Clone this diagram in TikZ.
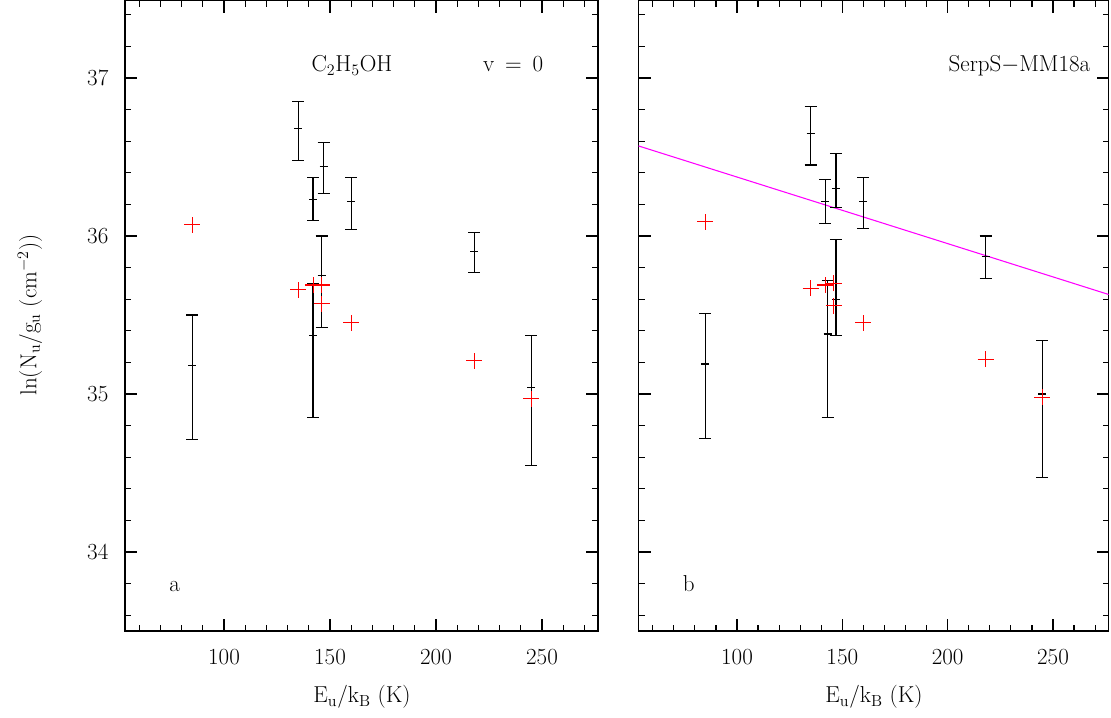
\documentclass[tikz,border=0pt]{standalone}
\usepackage{fontspec}
\setmainfont{Latin Modern Roman}
\definecolor{plred}{RGB}{255,0,0}
\definecolor{plmag}{RGB}{255,0,255}
\begin{document}
\begin{tikzpicture}[x=0.75pt,y=-0.75pt,line width=0.9pt,
  lbl/.style={font=\LARGE,inner sep=0pt},
  rp/.style={draw=plred,line width=0.8pt}]
\useasboundingbox (0,0) rectangle (1111,718);
\newcommand{\eb}[4]{\draw (#1,#3)--(#1,#4); \draw (#1,#3)++(-4.5pt,0)--++(9pt,0); \draw (#1,#4)++(-4.5pt,0)--++(9pt,0); \draw (#1,#2)++(-3pt,0)--++(6pt,0);}
\newcommand{\rpl}[2]{(#1,#2)++(-6pt,0)--++(12pt,0) (#1,#2)++(0,-6pt)--++(0,12pt)}
\newcommand{\frameticks}{%
 \draw (53.3,33.5) rectangle (276.4,37.49);
 \foreach \v in {33.6,33.8,...,37.41}{\draw (53.3,\v)--++(4.5pt,0); \draw (276.4,\v)--++(-4.5pt,0);}
 \foreach \v in {34,35,36,37}{\draw (53.3,\v)--++(9pt,0); \draw (276.4,\v)--++(-9pt,0);}
 \foreach \u in {60,70,...,270}{\draw (\u,33.5)--++(0,4.5pt); \draw (\u,37.49)--++(0,-4.5pt);}
 \foreach \u in {100,150,200,250}{\draw (\u,33.5)--++(0,9pt); \draw (\u,37.49)--++(0,-9pt);}
 \foreach \u in {100,150,200,250}{\node[lbl,anchor=north] (xl\u) at ([yshift=-13pt]\u,33.5) {\u};}
}
% left panel
\begin{scope}[shift={(12,5924)},x=1.59pt,y=118.5pt]
 \frameticks
 \foreach \v in {34,35,36,37}{\node[lbl,anchor=east] (yl\v) at ([xshift=-12pt]53.3,\v) {\v};}
 \eb{85}{35.18}{34.71}{35.5}
 \eb{135}{36.68}{36.48}{36.85}
 \eb{142}{36.23}{36.1}{36.37}
 \eb{142}{35.37}{34.85}{35.7}
 \eb{146}{35.75}{35.42}{36.0}
 \eb{147}{36.44}{36.27}{36.59}
 \eb{160}{36.22}{36.04}{36.37}
 \eb{218}{35.9}{35.77}{36.02}
 \eb{245}{35.04}{34.55}{35.37}
 \draw[rp] \rpl{85}{36.07} \rpl{135}{35.66} \rpl{142}{35.69} \rpl{146}{35.69} \rpl{146}{35.57} \rpl{160}{35.45} \rpl{218}{35.21} \rpl{245}{34.97};
 \node[lbl,anchor=base west] (mol) at (141,37.04) {C$_2$H$_5$OH};
 \node[lbl,anchor=base west] (vv) at (222,37.04) {v\ \,=\ \,0};
 \node[lbl,anchor=base west] (pa) at (74,33.75) {a};
\end{scope}
% right panel
\begin{scope}[shift={(526.3,5924)},x=1.58pt,y=118.5pt]
 \frameticks
 \draw[draw=plmag,line width=0.8pt] (53.3,36.57)--(276.4,35.63);
 \eb{85}{35.19}{34.72}{35.51}
 \eb{135}{36.65}{36.45}{36.82}
 \eb{142}{36.22}{36.08}{36.36}
 \eb{143}{35.38}{34.85}{35.72}
 \eb{147}{35.6}{35.37}{35.98}
 \eb{147}{36.3}{36.18}{36.52}
 \eb{160}{36.22}{36.05}{36.37}
 \eb{218}{35.87}{35.73}{36.0}
 \eb{245}{35.0}{34.47}{35.34}
 \draw[rp] \rpl{85}{36.09} \rpl{135}{35.67} \rpl{142}{35.69} \rpl{146}{35.7} \rpl{146}{35.56} \rpl{160}{35.45} \rpl{218}{35.22} \rpl{245}{34.98};
 \node[lbl,anchor=base east] (src) at (268,37.04) {SerpS$-$MM18a};
 \node[lbl,anchor=base west] (pb) at (74,33.75) {b};
\end{scope}
\node[lbl] (xa) at (362,697) {E$_\mathrm{u}$/k$_\mathrm{B}$ (K)};
\node[lbl] (xb) at (874,697) {E$_\mathrm{u}$/k$_\mathrm{B}$ (K)};
\node[lbl,rotate=90] (ya) at (30,315) {ln(N$_\mathrm{u}$/g$_\mathrm{u}$ (cm$^{-2}$))};
\end{tikzpicture}
\end{document}
